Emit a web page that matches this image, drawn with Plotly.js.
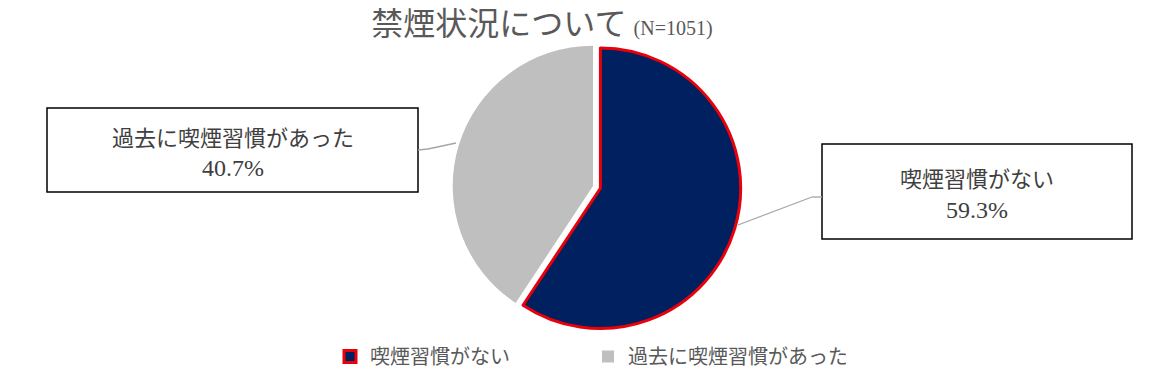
<!DOCTYPE html>
<html>
<head>
<meta charset="utf-8">
<script src="https://cdn.plot.ly/plotly-3.0.1.min.js"></script>
<style>html,body{margin:0;padding:0;background:#fff;}#chart{width:1159px;height:382px;}</style>
</head>
<body>
<div id="chart"></div>
<script>
// ---- data ----
const categories = ['喫煙習慣がない', '過去に喫煙習慣があった'];
const percentages = [59.3, 40.7];
const sliceColors = ['#002060', '#BFBFBF'];
const titleText = '禁煙状況について';
const sampleNote = '(N=1051)';

// ---- helpers ----
const W = 1159, H = 382;
const px = x => x / W;
const py = y => 1 - y / H;

const labelFont = {family: '"Noto Sans CJK JP", sans-serif', size: 22, color: '#404040'};
const numberFont = {family: '"Liberation Serif", "DejaVu Serif", serif', size: 24, color: '#404040'};

// label boxes (pixel geometry)
const boxes = [
  {x0: 822, y0: 144, x1: 1132, y1: 239, lead: [[822,197],[812,197],[738,225]]},
  {x0: 47, y0: 108, x1: 418, y1: 192, lead: [[418,150],[428,149],[456,143]]}
];

const shapes = [];
const annotations = [];
boxes.forEach((b, i) => {
  shapes.push({type: 'rect', xref: 'paper', yref: 'paper',
    x0: px(b.x0), x1: px(b.x1), y0: py(b.y1), y1: py(b.y0),
    line: {color: '#000', width: 1.5}, fillcolor: '#fff', layer: 'above'});
  for (let k = 0; k < b.lead.length - 1; k++) {
    shapes.push({type: 'line', xref: 'paper', yref: 'paper',
      x0: px(b.lead[k][0]), y0: py(b.lead[k][1]),
      x1: px(b.lead[k+1][0]), y1: py(b.lead[k+1][1]),
      line: {color: '#A6A6A6', width: 1.3}});
  }
  const cx = (b.x0 + b.x1) / 2, cy = (b.y0 + b.y1) / 2;
  annotations.push({xref: 'paper', yref: 'paper', x: px(cx), y: py(cy - 14),
    xanchor: 'center', yanchor: 'middle', showarrow: false,
    text: categories[i], font: labelFont});
  annotations.push({xref: 'paper', yref: 'paper', x: px(cx), y: py(cy + 18),
    xanchor: 'center', yanchor: 'middle', showarrow: false,
    text: percentages[i].toFixed(1) + '%', font: numberFont});
});

const trace = {
  type: 'pie',
  labels: categories,
  values: percentages,
  sort: false,
  direction: 'clockwise',
  rotation: 0,
  pull: [0.055, 0],
  textinfo: 'none',
  hoverinfo: 'label+percent',
  marker: {colors: sliceColors, line: {color: ['#E8000B', 'rgba(0,0,0,0)'], width: [3, 0]}},
  domain: {x: [px(445), px(741)], y: [py(334), py(38)]}
};

const layout = {
  width: W, height: H,
  margin: {l: 0, r: 0, t: 0, b: 0},
  paper_bgcolor: '#fff',
  title: {
    text: titleText + ' <span style="font-size:20px;font-family:\'Liberation Serif\',serif">' + sampleNote + '</span>',
    font: {family: '"Noto Sans CJK JP", sans-serif', size: 32, color: '#595959'},
    x: px(542), xanchor: 'center', xref: 'paper',
    y: 1 - 24 / H, yanchor: 'middle', yref: 'container'
  },
  showlegend: true,
  legend: {
    orientation: 'h', x: px(330), xanchor: 'left', y: py(337), yanchor: 'top',
    font: {family: '"Noto Sans CJK JP", sans-serif', size: 20, color: '#595959'},
    entrywidth: 213, traceorder: 'normal', bgcolor: 'rgba(0,0,0,0)'
  },
  shapes: shapes,
  annotations: annotations
};

Plotly.newPlot('chart', [trace], layout, {displayModeBar: false, staticPlot: true});
</script>
</body>
</html>
